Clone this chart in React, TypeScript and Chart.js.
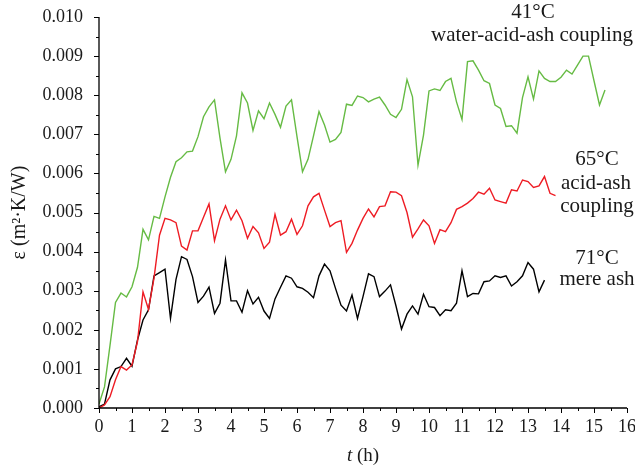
import React, { useEffect, useRef } from "react";
import { Chart, registerables } from "chart.js";

Chart.register(...registerables);

// sampling interval of the measurements (10 min)
const SAMPLE_INTERVAL_H = 1 / 6;

// ε (m²·K/W) — 41 °C water-acid-ash coupling
const GREEN_41C = [
  0.0001, 0.00054, 0.0016, 0.0027, 0.00294, 0.00284, 0.0031, 0.0036, 0.00457, 0.0043,
  0.0049, 0.00485, 0.0054, 0.0059, 0.0063, 0.0064, 0.00655, 0.00657, 0.00694, 0.00745,
  0.0077, 0.00788, 0.0069, 0.00604, 0.00636, 0.00696, 0.00806, 0.0078, 0.0071, 0.0076,
  0.0074, 0.0078, 0.00751, 0.00718, 0.00772, 0.00788, 0.00694, 0.00604, 0.00636, 0.00696,
  0.00758, 0.00724, 0.0068, 0.00687, 0.00705, 0.00777, 0.00774, 0.00798, 0.00794, 0.00783,
  0.0079, 0.00795, 0.00775, 0.00751, 0.00743, 0.00764, 0.0084, 0.00796, 0.00621, 0.00698,
  0.00811, 0.00816, 0.00812, 0.00835, 0.00843, 0.00783, 0.00738, 0.00886, 0.00888, 0.00864,
  0.00837, 0.0083, 0.00775, 0.00766, 0.0072, 0.00722, 0.00703, 0.00794, 0.00847, 0.0079,
  0.00862, 0.00843, 0.00835, 0.00835, 0.00846, 0.00864, 0.00854, 0.00877, 0.009, 0.009,
  0.00837, 0.00775, 0.00813,
];

// ε — 65 °C acid-ash coupling
const RED_65C = [
  0, 0.00008, 0.00029, 0.00072, 0.00106, 0.00097, 0.0011, 0.0017, 0.00297, 0.00252,
  0.00332, 0.00442, 0.00485, 0.00481, 0.00474, 0.00414, 0.00404, 0.00453, 0.00453, 0.00488,
  0.00522, 0.00428, 0.00483, 0.00517, 0.00481, 0.00506, 0.00479, 0.00434, 0.00464, 0.00448,
  0.00408, 0.00424, 0.00495, 0.00442, 0.00451, 0.00483, 0.00444, 0.00466, 0.00517, 0.0054,
  0.00549, 0.00506, 0.00464, 0.00474, 0.00479, 0.00398, 0.00421, 0.00455, 0.00485, 0.00509,
  0.00489, 0.00515, 0.00517, 0.00553, 0.00552, 0.00543, 0.005, 0.00437, 0.00458, 0.00481,
  0.00466, 0.00421, 0.00456, 0.00451, 0.00474, 0.00508, 0.00515, 0.00524, 0.00536, 0.00552,
  0.00547, 0.00562, 0.00532, 0.00528, 0.00524, 0.00558, 0.00555, 0.00583, 0.00579, 0.00564,
  0.00568, 0.00592, 0.00549, 0.00543,
];

// ε — 71 °C mere ash
const BLACK_71C = [
  0.00003, 0.0001, 0.00072, 0.001, 0.00106, 0.00127, 0.00107, 0.00174, 0.00225, 0.00251,
  0.00338, 0.00346, 0.00355, 0.00229, 0.00329, 0.00387, 0.0038, 0.00336, 0.0027, 0.00286,
  0.00309, 0.00242, 0.00268, 0.00379, 0.00274, 0.00274, 0.00245, 0.003, 0.00266, 0.00283,
  0.00248, 0.00229, 0.00279, 0.00309, 0.00338, 0.00332, 0.0031, 0.00306, 0.00296, 0.00282,
  0.00338, 0.00368, 0.00351, 0.00306, 0.00263, 0.00248, 0.00289, 0.00229, 0.00285, 0.00343,
  0.00336, 0.00285, 0.00299, 0.00315, 0.00261, 0.00202, 0.0024, 0.00261, 0.0024, 0.00291,
  0.00259, 0.00257, 0.00236, 0.00251, 0.00249, 0.00268, 0.00351, 0.00285, 0.00293, 0.00292,
  0.00323, 0.00325, 0.00338, 0.00334, 0.00338, 0.00312, 0.00323, 0.00338, 0.00372, 0.00355,
  0.00297, 0.00327,
];

const X_MIN = 0;
const X_MAX = 16;
const X_STEP = 1;
const Y_MIN = 0;
const Y_MAX = 0.01;
const Y_STEP = 0.001;

const SERIES_LABELS = ["41°C water-acid-ash coupling", "65°C acid-ash coupling", "71°C mere ash"];

const FONT = "'Liberation Serif', 'Times New Roman', serif";

const toPoints = (vals: number[]) => vals.map((v, i) => ({ x: i * SAMPLE_INTERVAL_H, y: v }));

const decorPlugin = {
  id: "decor",
  afterDraw(chart: any) {
    const ctx = chart.ctx as CanvasRenderingContext2D;
    const { left, right, top, bottom } = chart.chartArea;
    const xs = chart.scales.x;
    const ys = chart.scales.y;
    ctx.save();
    ctx.strokeStyle = "#000";
    ctx.lineWidth = 1.3;
    ctx.beginPath();
    ctx.moveTo(left, top);
    ctx.lineTo(left, bottom);
    ctx.lineTo(right, bottom);
    ctx.stroke();
    ctx.lineWidth = 1;
    ctx.beginPath();
    for (let k = 0; k <= (Y_MAX - Y_MIN) / (Y_STEP / 2) + 0.001; k++) {
      const y = Math.round(ys.getPixelForValue(Y_MIN + (k * Y_STEP) / 2)) + 0.5;
      const len = k % 2 === 0 ? 5 : 3;
      ctx.moveTo(left, y);
      ctx.lineTo(left - len, y);
    }
    for (let k = 0; k <= (X_MAX - X_MIN) / (X_STEP / 2) + 0.001; k++) {
      const x = Math.round(xs.getPixelForValue(X_MIN + (k * X_STEP) / 2)) + 0.5;
      const len = k % 2 === 0 ? 5 : 3;
      ctx.moveTo(x, bottom);
      ctx.lineTo(x, bottom + len);
    }
    ctx.stroke();

    ctx.fillStyle = "#1a1a1a";
    // x title
    const xc = (left + right) / 2;
    ctx.textBaseline = "middle";
    ctx.font = `italic 19px ${FONT}`;
    const tW = ctx.measureText("t").width;
    ctx.font = `19px ${FONT}`;
    const restW = ctx.measureText(" (h)").width;
    const startX = xc - (tW + restW) / 2;
    ctx.textAlign = "left";
    ctx.font = `italic 19px ${FONT}`;
    ctx.fillText("t", startX, 456);
    ctx.font = `19px ${FONT}`;
    ctx.fillText(" (h)", startX + tW, 456);

    // y title
    ctx.save();
    ctx.translate(20, (top + bottom) / 2);
    ctx.rotate(-Math.PI / 2);
    ctx.textAlign = "center";
    ctx.font = `20px ${FONT}`;
    ctx.fillText("ε (m²·K/W)", 0, 0);
    ctx.restore();

    // annotations
    ctx.textAlign = "center";
    ctx.font = `21px ${FONT}`;
    ctx.fillText("41°C", 533, 12);
    ctx.fillText("water-acid-ash coupling", 532, 35);
    ctx.fillText("65°C", 597, 159);
    ctx.fillText("acid-ash", 596, 183);
    ctx.fillText("coupling", 597, 206);
    ctx.fillText("71°C", 597, 258);
    ctx.fillText("mere ash", 597, 279);
    ctx.restore();
  },
};

export default function App() {
  const ref = useRef<HTMLCanvasElement | null>(null);
  useEffect(() => {
    if (!ref.current) return;
    Chart.defaults.font.family = FONT;
    const chart = new Chart(ref.current, {
      type: "line",
      data: {
        datasets: [
          { label: SERIES_LABELS[0], data: toPoints(GREEN_41C), borderColor: "#66bb44", borderWidth: 1.4, pointRadius: 0, tension: 0, fill: false },
          { label: SERIES_LABELS[1], data: toPoints(RED_65C), borderColor: "#ee1c24", borderWidth: 1.4, pointRadius: 0, tension: 0, fill: false },
          { label: SERIES_LABELS[2], data: toPoints(BLACK_71C), borderColor: "#000000", borderWidth: 1.4, pointRadius: 0, tension: 0, fill: false },
        ],
      },
      options: {
        animation: false,
        responsive: false,
        maintainAspectRatio: false,
        layout: { padding: { top: 17, right: 8, left: 0, bottom: 0 } },
        plugins: { legend: { display: false }, tooltip: { enabled: false }, title: { display: false } },
        scales: {
          x: {
            type: "linear",
            min: X_MIN,
            max: X_MAX,
            grid: { display: false, drawTicks: false },
            border: { display: false },
            ticks: { stepSize: X_STEP, color: "#1a1a1a", font: { size: 18, family: FONT }, padding: 8, maxRotation: 0, autoSkip: false },
            afterFit: (s: any) => {
              s.height = 64;
              s.paddingLeft = 0;
              s.paddingRight = 0;
            },
          },
          y: {
            type: "linear",
            min: Y_MIN,
            max: Y_MAX,
            grid: { display: false, drawTicks: false },
            border: { display: false },
            ticks: {
              stepSize: Y_STEP,
              color: "#1a1a1a",
              font: { size: 18, family: FONT },
              padding: 16,
              callback: (v: any) => Number(v).toFixed(3),
            },
            afterFit: (s: any) => {
              s.width = 99;
              s.paddingTop = 0;
              s.paddingBottom = 0;
            },
          },
        },
      },
      plugins: [decorPlugin],
    });
    return () => chart.destroy();
  }, []);
  return (
    <div style={{ position: "fixed", left: 0, top: 0, width: 635, height: 472, background: "#fff" }}>
      <canvas ref={ref} width={635} height={472} style={{ width: 635, height: 472, display: "block" }} />
    </div>
  );
}
